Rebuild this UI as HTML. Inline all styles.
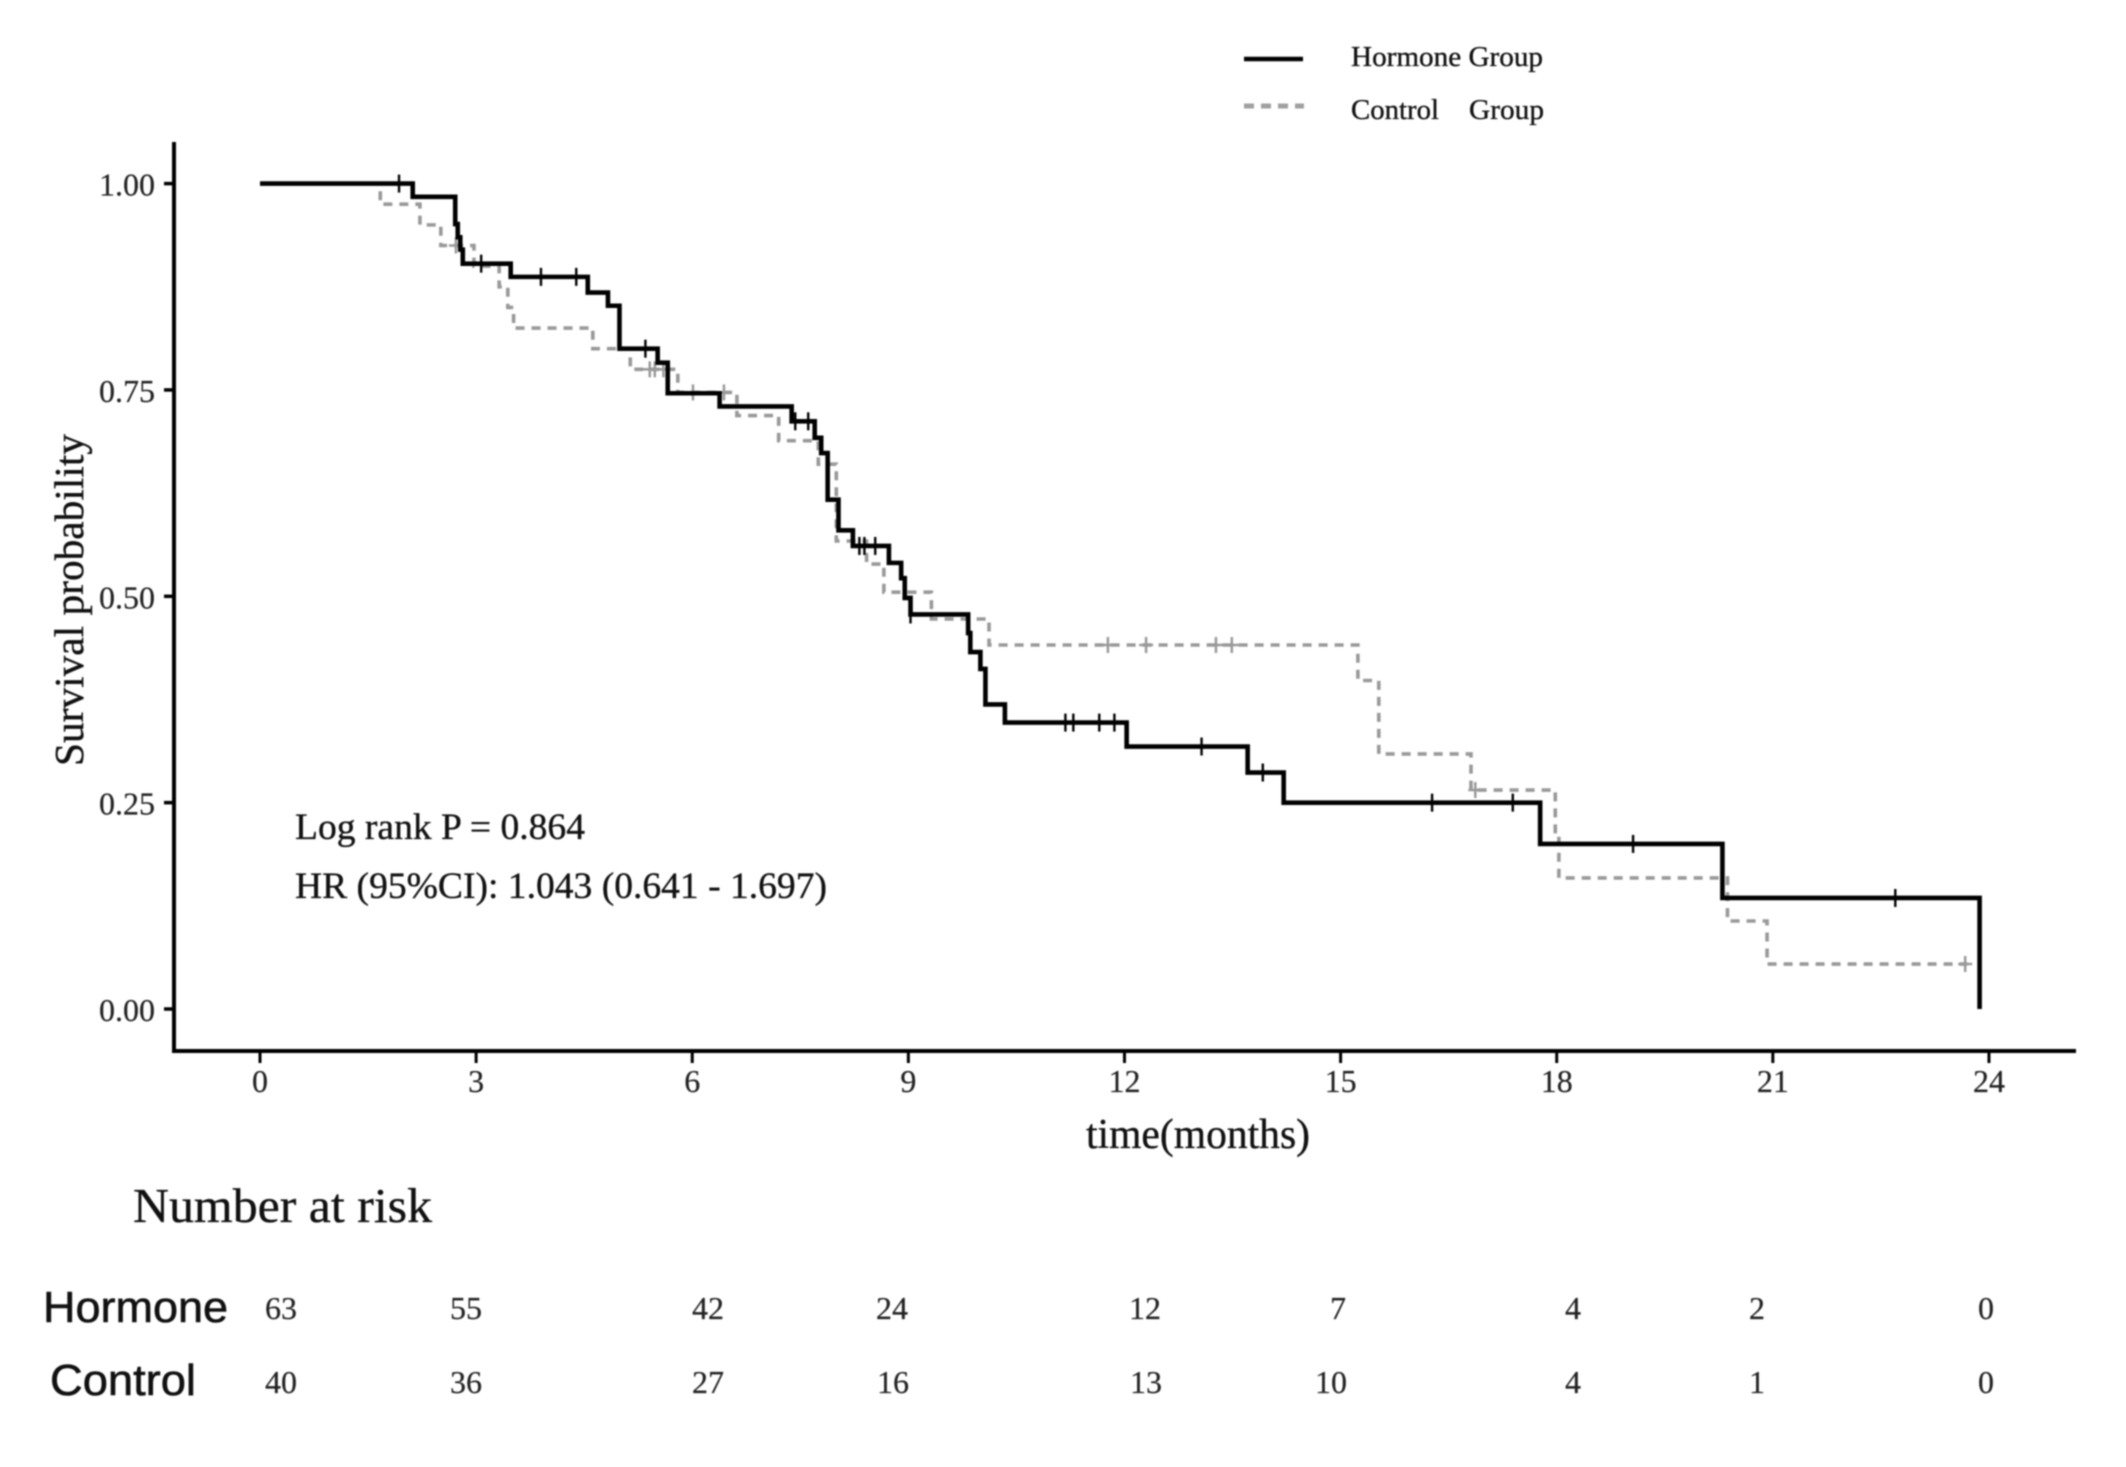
<!DOCTYPE html>
<html lang="en">
<head>
<meta charset="utf-8">
<title>Kaplan-Meier survival chart</title>
<style>
  html, body { margin: 0; padding: 0; background: #fff; }
  body { width: 2126px; height: 1467px; overflow: hidden; }
  svg { display: block; filter: blur(0.8px); }
  text { font-family: "Liberation Serif", "Times New Roman", serif; stroke: #111; stroke-width: 0.35px; }
  .sans { font-family: "Liberation Sans", Arial, sans-serif; fill: #111; stroke-width: 0.6px; }
  .tick-label { font-size: 32px; fill: #222; stroke: #222; stroke-width: 0.2px; }
  .risk { font-size: 32px; fill: #222; stroke: #222; stroke-width: 0.2px; text-anchor: middle; }
  .legend-text { font-size: 28px; fill: #111; }
</style>
</head>
<body>
<svg id="chart" xmlns="http://www.w3.org/2000/svg" width="2126" height="1467" viewBox="0 0 2126 1467">
  <rect x="0" y="0" width="2126" height="1467" fill="#fff"/>

  <g id="axes"></g>
  <g id="marks"></g>

  <g>
    <line x1="1244" y1="59" x2="1303" y2="59" stroke="#000" stroke-width="4.5"/>
    <text class="legend-text" x="1351" y="66" textLength="192" lengthAdjust="spacingAndGlyphs">Hormone Group</text>
    <line x1="1244" y1="106" x2="1304" y2="106" stroke="#a0a0a0" stroke-width="5" stroke-dasharray="10 7"/>
    <text class="legend-text" x="1351" y="119" textLength="88" lengthAdjust="spacingAndGlyphs">Control</text>
    <text class="legend-text" x="1469" y="119" textLength="75" lengthAdjust="spacingAndGlyphs">Group</text>
  </g>

  <text transform="translate(83 600) rotate(-90)" text-anchor="middle" font-size="41" fill="#111" textLength="332" lengthAdjust="spacingAndGlyphs">Survival probability</text>
  <text x="1086" y="1148" font-size="42" fill="#111" textLength="224" lengthAdjust="spacingAndGlyphs">time(months)</text>

  <text x="295" y="839" font-size="37" fill="#111" textLength="290" lengthAdjust="spacingAndGlyphs">Log rank P = 0.864</text>
  <text x="295" y="898" font-size="37" fill="#111" textLength="532" lengthAdjust="spacingAndGlyphs">HR (95%CI): 1.043 (0.641 - 1.697)</text>

  <g>
    <text x="133" y="1222" font-size="49" fill="#111" textLength="299" lengthAdjust="spacingAndGlyphs">Number at risk</text>
    <text class="sans" x="43" y="1322" font-size="44" textLength="185" lengthAdjust="spacingAndGlyphs">Hormone</text>
    <text class="sans" x="50" y="1395" font-size="44" textLength="146" lengthAdjust="spacingAndGlyphs">Control</text>

    <text class="risk" x="281" y="1319">63</text>
    <text class="risk" x="466" y="1319">55</text>
    <text class="risk" x="708" y="1319">42</text>
    <text class="risk" x="892" y="1319">24</text>
    <text class="risk" x="1145" y="1319">12</text>
    <text class="risk" x="1338" y="1319">7</text>
    <text class="risk" x="1573" y="1319">4</text>
    <text class="risk" x="1757" y="1319">2</text>
    <text class="risk" x="1986" y="1319">0</text>

    <text class="risk" x="281" y="1393">40</text>
    <text class="risk" x="466" y="1393">36</text>
    <text class="risk" x="708" y="1393">27</text>
    <text class="risk" x="893" y="1393">16</text>
    <text class="risk" x="1146" y="1393">13</text>
    <text class="risk" x="1331" y="1393">10</text>
    <text class="risk" x="1573" y="1393">4</text>
    <text class="risk" x="1757" y="1393">1</text>
    <text class="risk" x="1986" y="1393">0</text>
  </g>
</svg>

<script>
var xTickValues = [0, 3, 6, 9, 12, 15, 18, 21, 24];
var yTickValues = [0, 0.25, 0.5, 0.75, 1];

var hormoneTimes = [0, 2.12, 2.71, 2.745, 2.78, 2.815, 3.48, 4.55, 4.83, 4.99, 5.52, 5.66, 6.38, 7.38, 7.70, 7.79, 7.88, 8.03, 8.23, 8.73, 8.90, 8.95, 9.03, 9.83, 9.86, 10.0, 10.07, 10.34, 12.03, 13.71, 14.21, 17.77, 20.3, 23.87];
var hormoneSurvival = [1, 0.984, 0.951, 0.935, 0.92, 0.903, 0.887, 0.868, 0.852, 0.80, 0.783, 0.746, 0.73, 0.712, 0.692, 0.6735, 0.617, 0.58, 0.561, 0.5405, 0.522, 0.498, 0.478, 0.4555, 0.4325, 0.412, 0.369, 0.347, 0.318, 0.2865, 0.25, 0.2, 0.1345, 0];
var hormoneCensored = [1.93, 3.07, 3.90, 4.39, 5.35, 7.43, 7.61, 8.32, 8.39, 8.54, 9.03, 11.18, 11.29, 11.65, 11.86, 13.07, 13.92, 16.27, 17.39, 19.06, 22.7];

var controlTimes = [0, 1.67, 2.22, 2.51, 2.97, 3.32, 3.44, 3.52, 4.62, 5.14, 5.80, 6.62, 7.2, 7.75, 8.0, 8.42, 8.66, 9.32, 10.12, 15.24, 15.53, 16.81, 17.98, 18.03, 20.37, 20.92, 23.7];
var controlSurvival = [1, 0.975, 0.95, 0.925, 0.90, 0.875, 0.85, 0.825, 0.80, 0.775, 0.747, 0.719, 0.6885, 0.66, 0.567, 0.539, 0.505, 0.4725, 0.441, 0.398, 0.309, 0.2653, 0.211, 0.1588, 0.1066, 0.0545, 0.0545];
var controlCensored = [2.72, 5.41, 5.48, 5.6, 6.01, 6.44, 11.77, 12.3, 13.27, 13.49, 16.87, 23.67];

var SVG_NS = 'http://www.w3.org/2000/svg';
var axesGroup = document.getElementById('axes');
var marksGroup = document.getElementById('marks');

function xScale(t) { return 260 + 72.04 * t; }
function yScale(s) { return 1009 - 825.4 * s; }

function survivalAt(times, surv, t) {
  var value = surv[0];
  for (var i = 0; i < times.length; i++) {
    if (times[i] <= t) { value = surv[i]; }
  }
  return value;
}

function stepPath(times, surv) {
  var d = 'M' + xScale(times[0]) + ' ' + yScale(surv[0]);
  for (var i = 1; i < times.length; i++) {
    d += ' H' + xScale(times[i]) + ' V' + yScale(surv[i]);
  }
  return d;
}

function makeLine(x1, y1, x2, y2, color, width) {
  var l = document.createElementNS(SVG_NS, 'line');
  l.setAttribute('x1', x1);
  l.setAttribute('y1', y1);
  l.setAttribute('x2', x2);
  l.setAttribute('y2', y2);
  l.setAttribute('stroke', color);
  l.setAttribute('stroke-width', width);
  return l;
}

var yAxisLine = makeLine(174, 142, 174, 1052.5, '#000', 4);


axesGroup.appendChild(yAxisLine);

var xAxisLine = makeLine(172, 1051, 2076, 1051, '#000', 4);


axesGroup.appendChild(xAxisLine);

xTickValues.forEach(function (v) {
  var px = xScale(v);
  var tick = makeLine(px, 1051, px, 1063, '#000', 3);
  
  
  axesGroup.appendChild(tick);

  var label = document.createElementNS(SVG_NS, 'text');
  
  
  label.setAttribute('class', 'tick-label');
  label.setAttribute('x', px);
  label.setAttribute('y', 1092);
  label.setAttribute('text-anchor', 'middle');
  label.textContent = String(v);
  axesGroup.appendChild(label);
});

yTickValues.forEach(function (v) {
  var py = yScale(v);
  var tick = makeLine(164, py, 174, py, '#000', 3.5);
  
  
  axesGroup.appendChild(tick);

  var label = document.createElementNS(SVG_NS, 'text');
  
  
  label.setAttribute('class', 'tick-label');
  label.setAttribute('x', 155);
  label.setAttribute('y', py + 12);
  label.setAttribute('text-anchor', 'end');
  label.textContent = v.toFixed(2);
  axesGroup.appendChild(label);
});

var controlCurve = document.createElementNS(SVG_NS, 'path');


controlCurve.setAttribute('d', stepPath(controlTimes, controlSurvival));
controlCurve.setAttribute('fill', 'none');
controlCurve.setAttribute('stroke', '#999');
controlCurve.setAttribute('stroke-width', '3.6');
controlCurve.setAttribute('stroke-dasharray', '9 7');
marksGroup.appendChild(controlCurve);

controlCensored.forEach(function (t) {
  var cx = xScale(t);
  var cy = yScale(survivalAt(controlTimes, controlSurvival, t));
  var mark = makeLine(cx, cy - 8, cx, cy + 8, '#999', 2.5);
  
  
  marksGroup.appendChild(mark);
  var bar = makeLine(cx - 7, cy, cx + 7, cy, '#999', 2.5);
  
  
  marksGroup.appendChild(bar);
});

var hormoneCurve = document.createElementNS(SVG_NS, 'path');


hormoneCurve.setAttribute('d', stepPath(hormoneTimes, hormoneSurvival));
hormoneCurve.setAttribute('fill', 'none');
hormoneCurve.setAttribute('stroke', '#000');
hormoneCurve.setAttribute('stroke-width', '4.6');
hormoneCurve.setAttribute('stroke-linejoin', 'miter');
marksGroup.appendChild(hormoneCurve);

hormoneCensored.forEach(function (t) {
  var cx = xScale(t);
  var cy = yScale(survivalAt(hormoneTimes, hormoneSurvival, t));
  var mark = makeLine(cx, cy - 9, cx, cy + 9, '#000', 2.4);
  
  
  marksGroup.appendChild(mark);
});
</script>
</body>
</html>
